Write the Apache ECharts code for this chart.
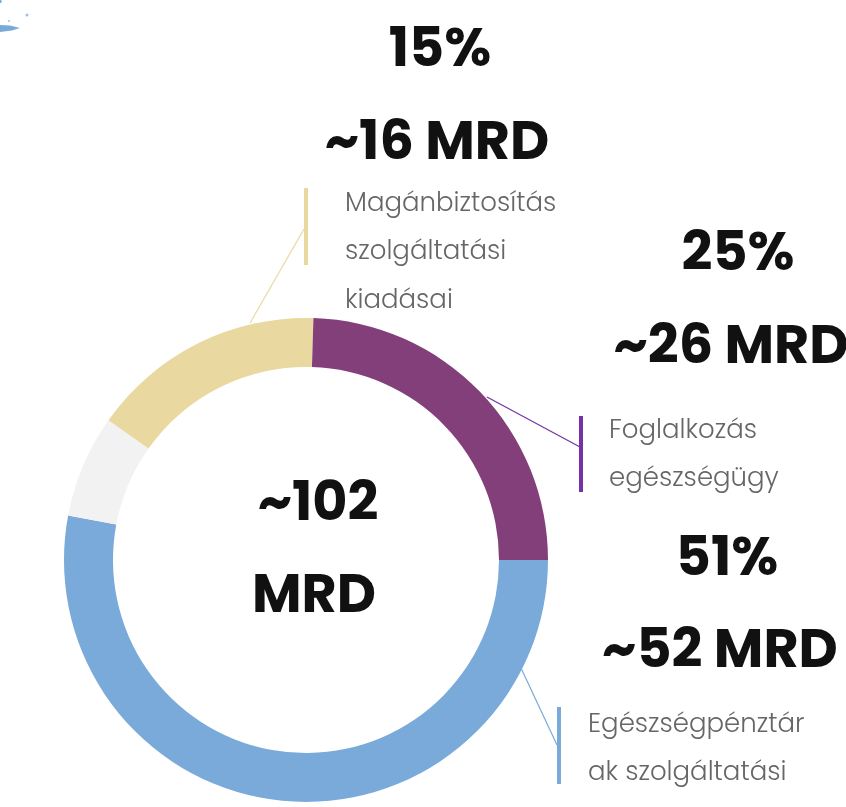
<!DOCTYPE html>
<html>
<head>
<meta charset="utf-8">
<script src="https://cdn.jsdelivr.net/npm/echarts@6/dist/echarts.min.js"></script>
<style>
  html, body { margin: 0; padding: 0; background: #ffffff; }
  #chart { width: 846px; height: 807px; }
</style>
</head>
<body>
<div id="chart"></div>
<script>
// ---- data ----
const categories = ['Egészségpénztárak szolgáltatási', 'Egyéb', 'Magánbiztosítás szolgáltatási kiadásai', 'Foglalkozás egészségügy'];
const values = [54, 7, 16, 25];
const descriptions = ['Egészségpénztár\nak szolgáltatási', '', 'Magánbiztosítás\nszolgáltatási\nkiadásai', 'Foglalkozás\negészségügy'];
const percentLabels = ['51%', '', '15%', '25%'];
const amountLabels = ['~52 MRD', '', '~16 MRD', '~26 MRD'];
const totalLabels = ['~102', 'MRD'];
const colors = ['#7aaad9', '#f2f2f2', '#e9d9a0', '#823f79'];
const accentColors = ['#7aaad9', '#f2f2f2', '#e9d9a0', '#7432a6'];

// ---- layout (positions only) ----
const CX = 306, CY = 560, R_IN = 193, R_OUT = 242;
const labelLayouts = [
  { text: [588, 701], start: [521, 668], end: [557, 745], bar: [557, 707, 4, 77], big: [[727, 561], [720, 653]] },
  null,
  { text: [345, 180], start: [250, 323], end: [304, 229], bar: [304, 188, 4, 77], big: [[440, 52], [437, 145]] },
  { text: [609, 407], start: [487, 397], end: [580, 447], bar: [579, 416, 4, 76], big: [[738, 256], [731, 349]] }
];

const FONT = 'Poppins, Inter, "Noto Sans", sans-serif';

const chart = echarts.init(document.getElementById('chart'), null, { renderer: 'canvas' });

const graphics = [];
// decorative brush fragment top-left
graphics.push({ type: 'polygon', shape: { points: [[0, 25], [10, 25.5], [20, 28], [12, 30.5], [0, 32]] }, style: { fill: '#7aaad9' }, silent: true });
graphics.push({ type: 'circle', shape: { cx: 27, cy: 15, r: 1.5 }, style: { fill: '#9cc0e6' }, silent: true });
graphics.push({ type: 'circle', shape: { cx: 9, cy: 21, r: 1 }, style: { fill: '#9cc0e6' }, silent: true });
graphics.push({ type: 'rect', shape: { x: 0, y: 0, width: 1.5, height: 3 }, style: { fill: '#7aaad9' }, silent: true });

labelLayouts.forEach((l, i) => {
  if (!l) return;
  graphics.push({ type: 'rect', shape: { x: l.bar[0], y: l.bar[1], width: l.bar[2], height: l.bar[3] }, style: { fill: accentColors[i] }, silent: true });
  graphics.push({ type: 'text', x: l.big[0][0], y: l.big[0][1], style: { text: percentLabels[i], font: '700 54px ' + FONT, fill: '#111111', textAlign: 'center', textVerticalAlign: 'middle' }, silent: true });
  graphics.push({ type: 'text', x: l.big[1][0], y: l.big[1][1], style: { text: amountLabels[i], font: '700 54px ' + FONT, fill: '#111111', textAlign: 'center', textVerticalAlign: 'middle' }, silent: true });
});
graphics.push({ type: 'text', x: 318, y: 506, style: { text: totalLabels[0], font: '700 54px ' + FONT, fill: '#111111', textAlign: 'center', textVerticalAlign: 'middle' }, silent: true });
graphics.push({ type: 'text', x: 314, y: 598, style: { text: totalLabels[1], font: '700 54px ' + FONT, fill: '#111111', textAlign: 'center', textVerticalAlign: 'middle' }, silent: true });

const seriesData = categories.map((name, i) => ({
  name: name,
  value: values[i],
  itemStyle: { color: colors[i] },
  label: { show: !!descriptions[i] },
  labelLine: { show: !!descriptions[i], lineStyle: { color: accentColors[i], width: 1.2 } }
}));

chart.setOption({
  animation: false,
  backgroundColor: '#ffffff',
  series: [{
    type: 'pie',
    center: [CX, CY],
    radius: [R_IN, R_OUT],
    startAngle: 0,
    clockwise: true,
    silent: true,
    emphasis: { disabled: true },
    itemStyle: { borderWidth: 0 },
    data: seriesData,
    label: {
      position: 'outside',
      formatter: (p) => descriptions[p.dataIndex],
      fontFamily: FONT,
      fontWeight: 300,
      fontSize: 26,
      lineHeight: 48.5,
      color: '#666666',
      overflow: 'none',
      width: 400
    },
    labelLine: { show: true, length: 10, length2: 10 },
    labelLayout: (params) => {
      const l = labelLayouts[params.dataIndex];
      if (!l) return {};
      const mid = [(l.start[0] + l.end[0]) / 2, (l.start[1] + l.end[1]) / 2];
      return {
        x: l.text[0],
        y: l.text[1],
        align: 'left',
        verticalAlign: 'top',
        labelLinePoints: [l.start, mid, l.end]
      };
    }
  }],
  graphic: graphics
});
</script>
</body>
</html>
